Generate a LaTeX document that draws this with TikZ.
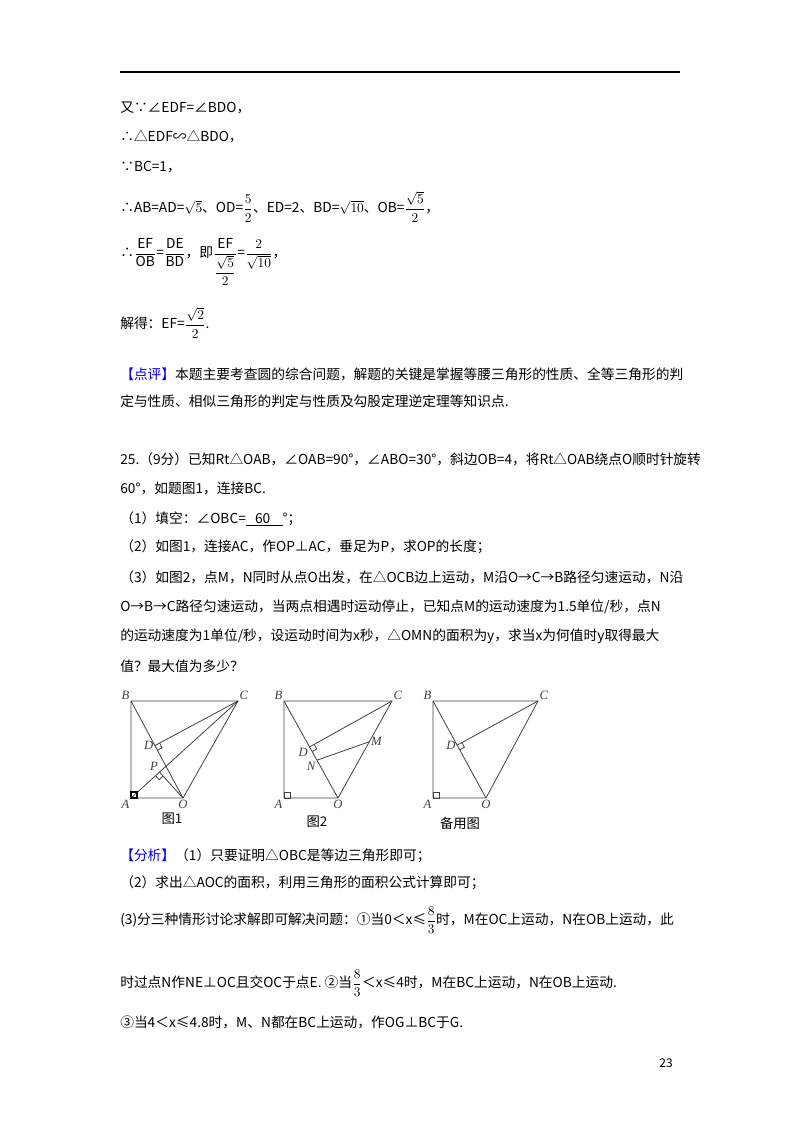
\documentclass[tikz,border=0pt]{standalone}
\usepackage{amsmath}
\usepackage{fontspec}
\setmainfont{Noto Sans CJK SC}
\newfontfamily\lbl{Liberation Serif}
\usetikzlibrary{calc}
\newcommand\rmark[4]{% #1 vertex, #2 #3 directions, #4 name prefix
  \coordinate (#4u) at ($(#1)!4pt!(#2)$); \coordinate (#4v) at ($(#1)!4pt!(#3)$);
  \draw (#4u) -- ($(#4u)+(#4v)-(#1)$) -- (#4v);}
\begin{document}
\begin{tikzpicture}[x=0.75pt,y=-0.75pt,
  tl/.style={anchor=west,inner sep=0pt,font=\fontsize{10.3}{12}\selectfont},
  pl/.style={inner sep=1pt,font=\lbl\itshape\fontsize{9.5}{10}\selectfont},
  figcap/.style={inner sep=0pt,font=\fontsize{10}{12}\selectfont},
  fig/.style={line width=0.6pt,gray!50!black}]
\useasboundingbox (0,0) rectangle (800,1132);
\draw[line width=0.8pt] (120,72) -- (680,72);
\node[tl] (l1) at (120,108) {又∵∠EDF=∠BDO，};
\node[tl] (l2) at (120,137) {∴△EDF∽△BDO，};
\node[tl] (l3) at (120,167) {∵BC=1，};
\node[tl] (l4) at (120,207) {∴AB=AD=$\sqrt{5}$、OD=$\dfrac{5}{2}$、ED=2、BD=$\sqrt{10}$、OB=$\dfrac{\sqrt5}{2}$，};
\node[tl] (l5) at (120,262) {∴$\dfrac{\mathrm{EF}}{\mathrm{OB}}$=$\dfrac{\mathrm{DE}}{\mathrm{BD}}$，即$\dfrac{\mathrm{EF}}{\dfrac{\sqrt5}{2}}$=$\dfrac{2}{\sqrt{10}}$，};
\node[tl] (l6) at (120,323) {解得：EF=$\dfrac{\sqrt2}{2}$.};
\node[tl] (l7) at (120,374) {\textcolor{blue}{【点评】}本题主要考查圆的综合问题，解题的关键是掌握等腰三角形的性质、全等三角形的判};
\node[tl] (l8) at (120,401) {定与性质、相似三角形的判定与性质及勾股定理逆定理等知识点.};
\node[tl] (q1) at (120,459) {25.（9分）已知Rt△OAB，∠OAB=90°，∠ABO=30°，斜边OB=4，将Rt△OAB绕点O顺时针旋转};
\node[tl] (q2) at (120,488) {60°，如题图1，连接BC.};
\node[tl] (q3) at (120,519) {（1）填空：∠OBC=\underline{\ \ \ 60\ \ \ \ }°；};
\node[tl] (q4) at (120,547) {（2）如图1，连接AC，作OP⊥AC，垂足为P，求OP的长度；};
\node[tl] (q5) at (120,577) {（3）如图2，点M，N同时从点O出发，在△OCB边上运动，M沿O→C→B路径匀速运动，N沿};
\node[tl] (q6) at (120,607) {O→B→C路径匀速运动，当两点相遇时运动停止，已知点M的运动速度为1.5单位/秒，点N};
\node[tl] (q7) at (120,636) {的运动速度为1单位/秒，设运动时间为x秒，△OMN的面积为y，求当x为何值时y取得最大};
\node[tl] (q8) at (120,666) {值？最大值为多少？};
\node[tl] (a1) at (120,856) {\textcolor{blue}{【分析】}（1）只要证明△OBC是等边三角形即可；};
\node[tl] (a2) at (120,883) {（2）求出△AOC的面积，利用三角形的面积公式计算即可；};
\node[tl] (a3) at (120,920) {(3)分三种情形讨论求解即可解决问题：①当0＜x≤$\dfrac{8}{3}$时，M在OC上运动，N在OB上运动，此};
\node[tl] (a4) at (120,983) {时过点N作NE⊥OC且交OC于点E. ②当$\dfrac{8}{3}$＜x≤4时，M在BC上运动，N在OB上运动.};
\node[tl] (a5) at (120,1022) {③当4＜x≤4.8时，M、N都在BC上运动，作OG⊥BC于G.};
\node[inner sep=0pt,font=\fontsize{9}{10}\selectfont] (pg) at (666,1063) {23};
% figure 1
\begin{scope}[fig]
\coordinate (A1) at (131,798); \coordinate (O1) at (183,798);
\coordinate (B1) at (131,701); \coordinate (C1) at (238,701);
\coordinate (D1) at ($(B1)!(C1)!(O1)$); \coordinate (P1) at ($(A1)!(O1)!(C1)$);
\draw (A1)--(B1)--(C1)--(O1)--cycle; \draw (B1)--(O1); \draw (C1)--(D1); \draw (A1)--(C1); \draw (O1)--(P1);
\rmark{D1}{C1}{O1}{rd1} \rmark{P1}{A1}{O1}{rp1}
\draw[line width=0.9pt,black] (A1) rectangle ++(6,-6);
\node[pl,above left] (tB1) at (B1) {B}; \node[pl,above right] (tC1) at (C1) {C};
\node[pl,below left] (tA1) at (A1) {A}; \node[pl,below] (tO1) at (O1) {O};
\node[pl,left] (tD1) at (D1) {D}; \node[pl,above left] (tP1) at (P1) {P};
\end{scope}
\node[figcap] (c1) at (172,819) {图1};
% figure 2
\begin{scope}[fig]
\coordinate (A2) at (284,798); \coordinate (O2) at (338,798);
\coordinate (B2) at (284,701); \coordinate (C2) at (392,701);
\coordinate (D2) at ($(B2)!(C2)!(O2)$);
\coordinate (M2) at ($(O2)!0.58!(C2)$); \coordinate (N2) at ($(O2)!0.39!(B2)$);
\draw (A2)--(B2)--(C2)--(O2)--cycle; \draw (B2)--(O2); \draw (C2)--(D2); \draw (M2)--(N2);
\rmark{D2}{C2}{O2}{rd2}
\draw (A2) rectangle ++(6,-6);
\node[pl,above left] (tB2) at (B2) {B}; \node[pl,above right] (tC2) at (C2) {C};
\node[pl,below left] (tA2) at (A2) {A}; \node[pl,below] (tO2) at (O2) {O};
\node[pl,below left] (tD2) at (D2) {D}; \node[pl,right] (tM2) at (M2) {M};
\node[pl,below left] (tN2) at (N2) {N};
\end{scope}
\node[figcap] (c2) at (317,822) {图2};
% figure 3
\begin{scope}[fig]
\coordinate (A3) at (433,798); \coordinate (O3) at (486,798);
\coordinate (B3) at (433,701); \coordinate (C3) at (538,701);
\coordinate (D3) at ($(B3)!(C3)!(O3)$);
\draw (A3)--(B3)--(C3)--(O3)--cycle; \draw (B3)--(O3); \draw (C3)--(D3);
\rmark{D3}{C3}{O3}{rd3}
\draw (A3) rectangle ++(6,-6);
\node[pl,above left] (tB3) at (B3) {B}; \node[pl,above right] (tC3) at (C3) {C};
\node[pl,below left] (tA3) at (A3) {A}; \node[pl,below] (tO3) at (O3) {O};
\node[pl,left] (tD3) at (D3) {D};
\end{scope}
\node[figcap] (c3) at (460,823) {备用图};
\end{tikzpicture}
\end{document}
